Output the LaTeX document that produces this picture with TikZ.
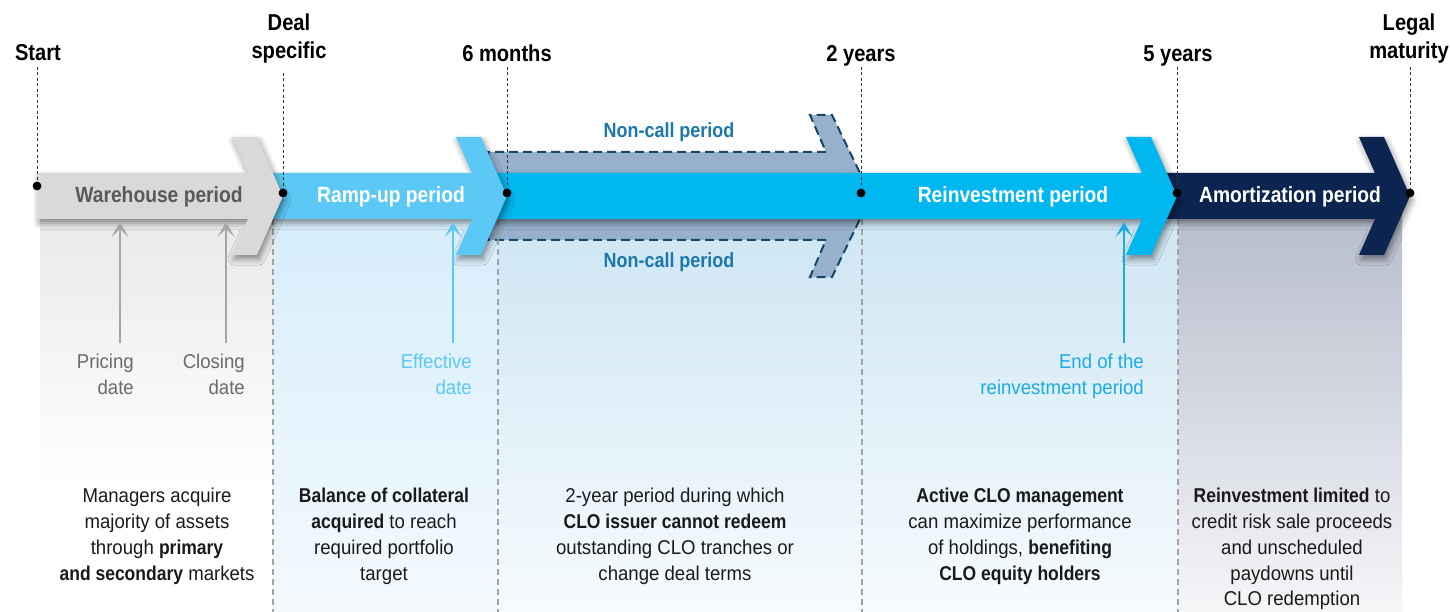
\documentclass[tikz,border=0pt]{standalone}
\usepackage{fontspec}
\setmainfont{Liberation Sans}[UprightFeatures={FakeStretch=0.93},BoldFeatures={FakeStretch=0.875}]
\usetikzlibrary{arrows.meta,shadows.blur}

\definecolor{whgray}{HTML}{D9D9D9}
\definecolor{whtext}{HTML}{595959}
\definecolor{ramp}{HTML}{5BC8F5}
\definecolor{reinv}{HTML}{00B8EF}
\definecolor{amort}{HTML}{0B2550}
\definecolor{ncfill}{HTML}{97B1CD}
\definecolor{ncline}{HTML}{15496A}
\definecolor{nctext}{HTML}{1A78AA}
\definecolor{bodytext}{HTML}{1A1A1A}
\definecolor{datetext}{HTML}{6B6B6B}
\definecolor{datearrow}{HTML}{A6A6A6}
\definecolor{effcol}{HTML}{5BC8F5}
\definecolor{endcol}{HTML}{1AABE3}
\definecolor{sepgray}{HTML}{A3A3A3}

% chevron-headed period arrow: #1 left end, #2 start of head, #3 style
\newcommand\periodshape[3]{%
  \fill[#3] (#1,173) -- (#2,173) -- ({#2-16},137) -- ({#2+9},137) -- ({#2+35},196)
    -- ({#2+9},255) -- ({#2-16},255) -- (#2,219) -- (#1,219) -- cycle;}

\begin{document}
\begin{tikzpicture}[x=1pt,y=-1pt,
  bandshadow/.style={blur shadow={shadow xshift=2pt,shadow yshift=-4pt,shadow blur radius=6pt,shadow opacity=45}},
  milestone/.style={font=\bfseries\fontsize{23}{28}\selectfont,inner sep=0pt,align=center},
  bandlabel/.style={font=\bfseries\fontsize{22}{26}\selectfont,inner sep=0pt,anchor=base},
  nclabel/.style={font=\bfseries\fontsize{20.5}{24}\selectfont,text=nctext,inner sep=0pt,anchor=base},
  datelabel/.style={font=\fontsize{20}{26}\selectfont,inner sep=0pt,align=right,anchor=north east},
  bodylabel/.style={font=\fontsize{20}{25.8}\selectfont,text=bodytext,inner sep=0pt,align=center,anchor=north},
  datearrowstyle/.style={line width=2.6pt,-{Stealth[length=15pt,width=17pt,inset=8pt]}},
  guide/.style={draw=black!80,line width=0.9pt,dash pattern=on 3pt off 2.5pt},
  separator/.style={draw=sepgray,line width=1.5pt,dash pattern=on 6pt off 4pt},
  ncshape/.style={fill=ncfill,draw=ncline,line width=2pt,dash pattern=on 9pt off 5pt},
  dot/.style={circle,fill=black,inner sep=0pt,minimum size=8.5pt}]
\useasboundingbox (0,0) rectangle (1450,612);

% column backgrounds
\shade[top color=black!9,bottom color=white] (40,200) rectangle (273,490);
\shade[top color={rgb,255:red,213;green,237;blue,251},bottom color={rgb,255:red,244;green,250;blue,254}] (273,200) rectangle (498,612);
\shade[top color={rgb,255:red,204;green,229;blue,243},bottom color={rgb,255:red,246;green,251;blue,254}] (498,200) rectangle (1178,612);
\shade[top color={rgb,255:red,181;green,187;blue,203},bottom color={rgb,255:red,245;green,246;blue,248}] (1178,200) rectangle (1402,612);

% non-call period half arrows
\path[ncshape] (488,173) -- (488,152) -- (826,152) -- (810,115) -- (832,115) -- (860,173);
\path[ncshape] (488,219) -- (488,240) -- (826,240) -- (810,277) -- (832,277) -- (860,219);

% column separators
\foreach \sx/\sn in {273/sepa,498/sepb,862/sepc,1178/sepd}{
  \coordinate (\sn top) at (\sx,219);
  \coordinate (\sn bot) at (\sx,612);
  \draw[separator] (\sn top) -- (\sn bot);
}

% period arrows, drawn right to left so each head overlaps the next band
\periodshape{1165}{1375}{amort,bandshadow}
\periodshape{495}{1142}{reinv,bandshadow}
\periodshape{270}{472}{ramp,bandshadow}
\periodshape{37}{248}{whgray,bandshadow}

% period labels
\node[bandlabel,text=whtext] (warehouse) at (159,203) {Warehouse period};
\node[bandlabel,text=white] (rampup) at (391,203) {Ramp-up period};
\node[bandlabel,text=white] (reinvestment) at (1013,203) {Reinvestment period};
\node[bandlabel,text=white] (amortization) at (1290,203) {Amortization period};
\node[nclabel] (ncupper) at (669,138) {Non-call period};
\node[nclabel] (nclower) at (669,268) {Non-call period};

% milestone guides and dots
\node[dot] (dstart) at (37,186) {};
\node[dot] (ddeal) at (283,193) {};
\node[dot] (dsix) at (507,193) {};
\node[dot] (dtwo) at (861,193) {};
\node[dot] (dfive) at (1177,193) {};
\node[dot] (dlegal) at (1410,193) {};

\node[milestone,anchor=center] (start) at (38,53) {Start};
\node[milestone,anchor=north] (deal) at (289,14) {Deal\\specific};
\node[milestone,anchor=center] (six) at (507,53) {6 months};
\node[milestone,anchor=base] (two) at (861,62) {2 years};
\node[milestone,anchor=base] (five) at (1178,62) {5 years};
\node[milestone,anchor=north] (legal) at (1409,14) {Legal\\maturity};

\coordinate (gstart) at (37,67);
\coordinate (gdeal) at (283,73);
\coordinate (gsix) at (507,67);
\coordinate (gtwo) at (861,67);
\coordinate (gfive) at (1177,67);
\coordinate (glegal) at (1410,67);
\draw[guide] (gstart) -- (dstart.center);
\draw[guide] (gdeal) -- (ddeal.center);
\draw[guide] (gsix) -- (dsix.center);
\draw[guide] (gtwo) -- (dtwo.center);
\draw[guide] (gfive) -- (dfive.center);
\draw[guide] (glegal) -- (dlegal.center);
\node[dot] at (dstart) {};
\node[dot] at (ddeal) {};
\node[dot] at (dsix) {};
\node[dot] at (dtwo) {};
\node[dot] at (dfive) {};
\node[dot] at (dlegal) {};

% key dates
\node[datelabel,text=datetext] (pricing) at (134,354) {Pricing\\date};
\node[datelabel,text=datetext] (closing) at (245,354) {Closing\\date};
\node[datelabel,text=effcol] (effective) at (472,354) {Effective\\date};
\node[datelabel,text=endcol] (endreinv) at (1144,354) {End of the\\reinvestment period};

\coordinate (pricingfoot) at (120,343);  \coordinate (pricingtip) at (120,222);
\coordinate (closingfoot) at (226,343);  \coordinate (closingtip) at (226,222);
\coordinate (effectivefoot) at (453,343); \coordinate (effectivetip) at (453,222);
\coordinate (endfoot) at (1124,343);     \coordinate (endtip) at (1124,222);
\draw[datearrowstyle,datearrow] (pricingfoot) -- (pricingtip);
\draw[datearrowstyle,datearrow] (closingfoot) -- (closingtip);
\draw[datearrowstyle,effcol] (effectivefoot) -- (effectivetip);
\draw[datearrowstyle,endcol] (endfoot) -- (endtip);

% period descriptions
\node[bodylabel] (descwarehouse) at (157,488) {Managers acquire\\majority of assets\\through \textbf{primary}\\\textbf{and secondary} markets};
\node[bodylabel] (descramp) at (384,488) {\textbf{Balance of collateral}\\\textbf{acquired} to reach\\required portfolio\\target};
\node[bodylabel] (descnoncall) at (675,488) {2-year period during which\\\textbf{CLO issuer cannot redeem}\\outstanding CLO tranches or\\change deal terms};
\node[bodylabel] (descreinv) at (1020,488) {\textbf{Active CLO management}\\can maximize performance\\of holdings, \textbf{benefiting}\\\textbf{CLO equity holders}};
\node[bodylabel] (descamort) at (1292,488) {\textbf{Reinvestment limited} to\\credit risk sale proceeds\\and unscheduled\\paydowns until\\CLO redemption};
\end{tikzpicture}
\end{document}
